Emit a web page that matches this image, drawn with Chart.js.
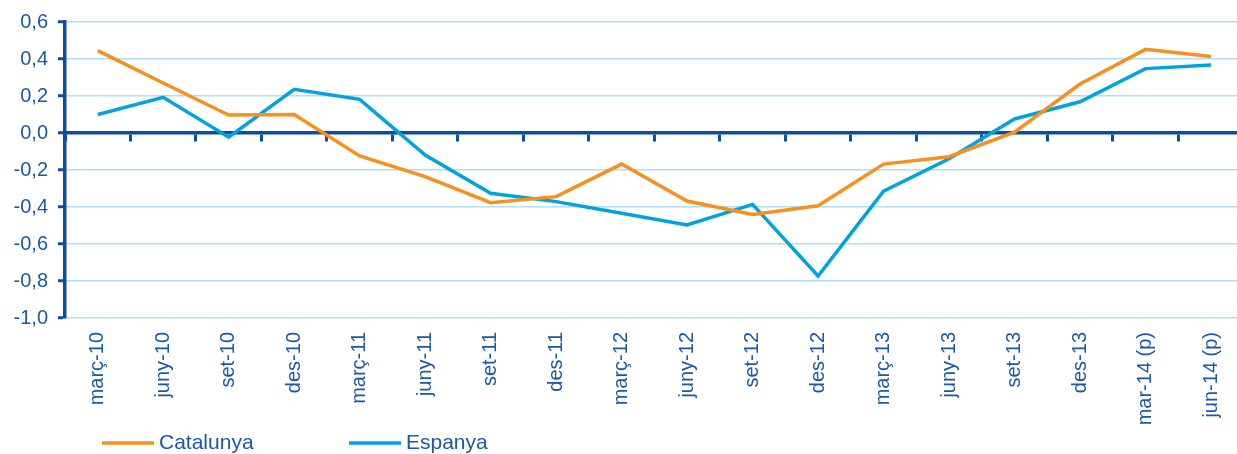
<!DOCTYPE html>
<html>
<head>
<meta charset="utf-8">
<script src="https://cdn.jsdelivr.net/npm/chart.js@4.4.1/dist/chart.umd.min.js"></script>
<style>
  html, body { margin: 0; padding: 0; background: #fff; overflow: hidden; }
  #wrap { position: relative; width: 1249px; height: 454px; }
</style>
</head>
<body>
<div id="wrap"><canvas id="myChart"></canvas></div>
<script>
var categories = ['març-10', 'juny-10', 'set-10', 'des-10', 'març-11', 'juny-11', 'set-11', 'des-11',
    'març-12', 'juny-12', 'set-12', 'des-12', 'març-13', 'juny-13', 'set-13', 'des-13',
    'mar-14 (p)', 'jun-14 (p)'];
var catalunya = [0.445, 0.27, 0.097, 0.10, -0.124, -0.236, -0.377, -0.344,
    -0.168, -0.368, -0.44, -0.393, -0.168, -0.128, 0.004, 0.265, 0.452, 0.413];
var espanya = [0.10, 0.193, -0.023, 0.236, 0.182, -0.119, -0.326, -0.371,
    -0.434, -0.497, -0.386, -0.773, -0.314, -0.139, 0.076, 0.169, 0.348, 0.368];
var seriesNames = ['Catalunya', 'Espanya'];

var textColor = '#1b58a5';
var axisColor = '#0c4ca1';
var gridColor = '#b0def4';
var fontFamily = 'Arial, "Liberation Sans", sans-serif';

// llegenda a mida, sota el gràfic
var legendPlugin = {
    id: 'bottomLegend',
    afterDraw: function (chart) {
        var ctx = chart.ctx;
        var xs = [102, 349];
        var y = 443;
        ctx.save();
        ctx.font = '21px ' + fontFamily;
        ctx.textBaseline = 'middle';
        chart.data.datasets.forEach(function (ds, i) {
            ctx.strokeStyle = ds.borderColor;
            ctx.lineWidth = 3.5;
            ctx.beginPath();
            ctx.moveTo(xs[i], y);
            ctx.lineTo(xs[i] + 52, y);
            ctx.stroke();
            ctx.fillStyle = textColor;
            ctx.fillText(ds.label, xs[i] + 57, y);
        });
        ctx.restore();
    }
};

var ctx = document.getElementById('myChart').getContext('2d');
new Chart(ctx, {
    type: 'line',
    data: {
        labels: categories,
        datasets: [{
            label: seriesNames[0],
            data: catalunya,
            borderColor: '#f7901e',
            backgroundColor: '#f7901e',
            borderWidth: 3.5,
            pointRadius: 0,
            tension: 0
        }, {
            label: seriesNames[1],
            data: espanya,
            borderColor: '#00a3df',
            backgroundColor: '#00a3df',
            borderWidth: 3.5,
            pointRadius: 0,
            tension: 0
        }]
    },
    options: {
        responsive: true,
        maintainAspectRatio: false,
        animation: false,
        layout: { padding: { top: 22, right: 0, bottom: 28, left: 0 } },
        plugins: {
            legend: { display: false },
            tooltip: { enabled: false }
        },
        scales: {
            x: {
                type: 'category',
                position: 'bottom',
                offset: true,
                grid: { display: false, drawTicks: false },
                border: { display: false },
                ticks: {
                    autoSkip: false,
                    minRotation: 90,
                    maxRotation: 90,
                    padding: 14,
                    color: textColor,
                    font: { family: fontFamily, size: 20 }
                },
                afterFit: function (scale) { scale.height = 108; }
            },
            x0: {
                type: 'category',
                position: { y: 0 },
                offset: true,
                grid: {
                    offset: true,
                    drawOnChartArea: false,
                    drawTicks: true,
                    tickLength: 7,
                    tickColor: axisColor,
                    tickWidth: 3
                },
                border: { display: true, color: axisColor, width: 3.5 },
                ticks: { display: false }
            },
            y: {
                min: -1,
                max: 0.6,
                ticks: {
                    stepSize: 0.2,
                    padding: 10,
                    color: textColor,
                    font: { family: fontFamily, size: 20 },
                    callback: function (v) {
                        if (Math.abs(v) < 1e-9) v = 0;
                        return v.toFixed(1).replace('.', ',');
                    }
                },
                grid: {
                    color: gridColor,
                    lineWidth: 1.5,
                    drawTicks: true,
                    tickLength: 7,
                    tickColor: axisColor,
                    tickWidth: 3
                },
                border: { display: true, color: axisColor, width: 3.5 },
                afterFit: function (scale) { scale.width = 65; }
            }
        }
    },
    plugins: [legendPlugin]
});
</script>
</body>
</html>
